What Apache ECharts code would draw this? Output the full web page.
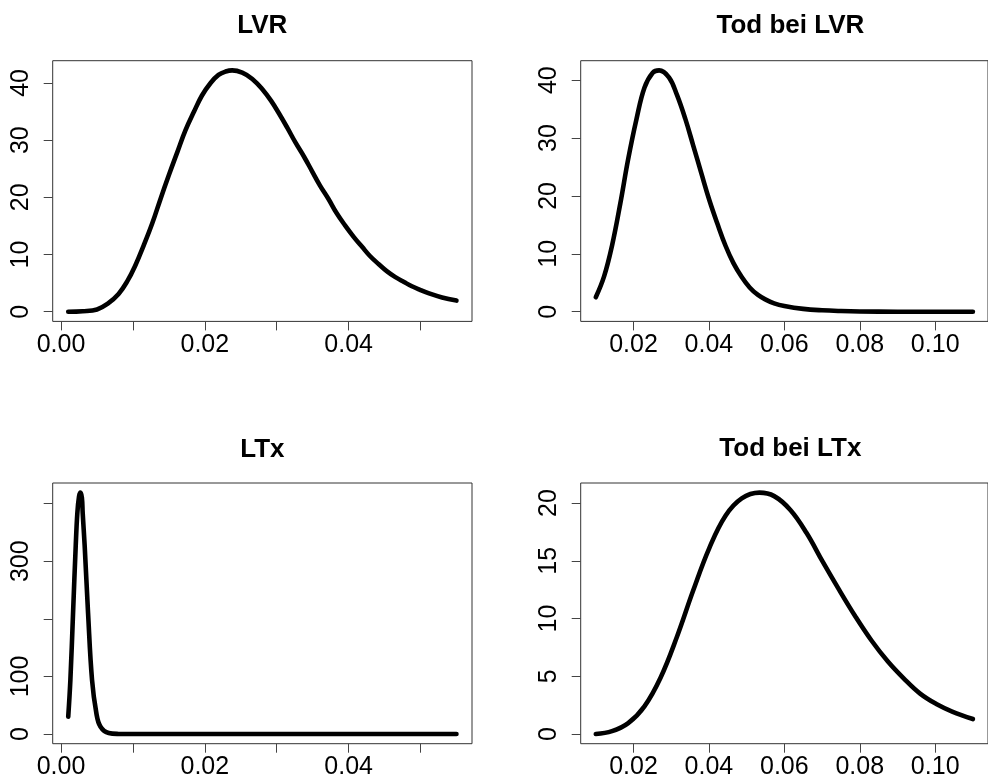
<!DOCTYPE html>
<html>
<head>
<meta charset="utf-8">
<script src="https://cdn.jsdelivr.net/npm/echarts@6/dist/echarts.min.js"></script>
<style>
  html, body { margin: 0; padding: 0; background: #fff; }
  #chart { width: 988px; height: 780px; }
</style>
</head>
<body>
<div id="chart"></div>
<script>
// ---- Density curves (x = rate, y = density) ----
const lvrX = [0.001, 0.003, 0.005, 0.0065, 0.008, 0.0092, 0.0103, 0.0115, 0.0127, 0.0138, 0.0150, 0.0162, 0.0173, 0.0185, 0.0196, 0.0208, 0.0219, 0.0229, 0.0238, 0.0252, 0.0266, 0.0280, 0.0292, 0.0303, 0.0315, 0.0326, 0.0338, 0.0349, 0.0360, 0.0372, 0.0383, 0.0395, 0.0407, 0.0419, 0.0430, 0.0442, 0.0453, 0.0465, 0.0477, 0.0488, 0.0500, 0.0511, 0.0530, 0.0550];
const lvrY = [0.0, 0.1, 0.4, 1.4, 3.1, 5.3, 8.0, 11.6, 15.5, 19.6, 23.9, 28.0, 31.7, 35.0, 37.8, 40.0, 41.4, 42.0, 42.2, 41.8, 40.7, 38.9, 36.9, 34.7, 32.1, 29.6, 27.1, 24.6, 22.1, 19.7, 17.3, 15.1, 13.1, 11.3, 9.7, 8.3, 7.1, 6.05, 5.2, 4.45, 3.8, 3.25, 2.5, 1.95];

const todLvrX = [0.010, 0.0122, 0.0143, 0.0165, 0.0186, 0.0208, 0.0229, 0.0251, 0.0268, 0.0294, 0.0315, 0.0337, 0.0358, 0.0380, 0.0401, 0.0423, 0.0444, 0.0465, 0.0487, 0.0508, 0.0530, 0.0552, 0.0573, 0.060, 0.065, 0.070, 0.075, 0.080, 0.090, 0.100, 0.110];
const todLvrY = [2.5, 6.1, 11.4, 18.7, 26.4, 33.3, 38.7, 41.3, 41.7, 40.5, 37.5, 33.4, 28.8, 23.9, 19.3, 15.1, 11.4, 8.4, 6.0, 4.2, 2.9, 2.05, 1.45, 1.0, 0.5, 0.25, 0.12, 0.05, 0.01, 0.0, 0.0];

const ltxX = [0.001, 0.0013, 0.00167, 0.00204, 0.00227, 0.0025, 0.0027, 0.0029, 0.00301, 0.00329, 0.00376, 0.00431, 0.00491, 0.00547, 0.00663, 0.008, 0.010, 0.020, 0.030, 0.040, 0.050, 0.055];
const ltxY = [30, 94, 210, 326, 384, 412, 419, 410, 384, 326, 210, 94, 36.5, 13.2, 1.7, 0.2, 0, 0, 0, 0, 0, 0];

const todLtxX = [0.010, 0.0143, 0.0186, 0.0229, 0.0272, 0.0315, 0.0358, 0.0401, 0.0444, 0.0487, 0.0534, 0.0573, 0.0616, 0.0659, 0.0702, 0.0745, 0.0788, 0.0831, 0.0874, 0.0917, 0.0960, 0.1003, 0.1045, 0.110];
const todLtxY = [0.0, 0.25, 0.95, 2.4, 4.9, 8.4, 12.4, 16.1, 18.9, 20.4, 20.9, 20.6, 19.4, 17.4, 14.9, 12.5, 10.2, 8.1, 6.3, 4.8, 3.5, 2.6, 1.95, 1.3];

// ---- Titles and axis ticks ----
const titles = ['LVR', 'Tod bei LVR', 'LTx', 'Tod bei LTx'];

const xTicksShort = [0, 0.01, 0.02, 0.03, 0.04, 0.05];
const xLabelsShort = [0, 0.02, 0.04];
const xTicksLong = [0.02, 0.04, 0.06, 0.08, 0.10];
const xLabelsLong = [0.02, 0.04, 0.06, 0.08, 0.10];

const yTicksLvr = [0, 10, 20, 30, 40];
const yLabelsLvr = [0, 10, 20, 30, 40];
const yTicksLtx = [0, 100, 200, 300, 400];
const yLabelsLtx = [0, 100, 300];
const yTicksTodLtx = [0, 5, 10, 15, 20];
const yLabelsTodLtx = [0, 5, 10, 15, 20];

const FONT = "'Liberation Sans', Arial, Helvetica, sans-serif";

// plot boxes: [left, top]; all share the same size
const BOX_W = 419.3, BOX_H = 260.7;
const boxes = [[52.7, 60.7], [580.7, 60.7], [52.7, 483], [580.7, 483]];
const titleY = [26, 26, 449.5, 449];

const panels = [
  { xs: lvrX, ys: lvrY, xt: xTicksShort, xl: xLabelsShort, yt: yTicksLvr, yl: yLabelsLvr },
  { xs: todLvrX, ys: todLvrY, xt: xTicksLong, xl: xLabelsLong, yt: yTicksLvr, yl: yLabelsLvr },
  { xs: ltxX, ys: ltxY, xt: xTicksShort, xl: xLabelsShort, yt: yTicksLtx, yl: yLabelsLtx },
  { xs: todLtxX, ys: todLtxY, xt: xTicksLong, xl: xLabelsLong, yt: yTicksTodLtx, yl: yLabelsTodLtx }
];

// axis range padded by 4% on each side
function padded(vals) {
  const lo = Math.min.apply(null, vals), hi = Math.max.apply(null, vals);
  const d = (hi - lo) * 0.04;
  return [lo - d, hi + d];
}

const grid = [], xAxis = [], yAxis = [], series = [], graphic = [];

panels.forEach(function (p, i) {
  const [left, top] = boxes[i];
  grid.push({
    left: left, top: top, width: BOX_W, height: BOX_H,
    show: true, borderColor: '#333', borderWidth: 1, backgroundColor: 'transparent'
  });
  const xr = padded(p.xs), yr = padded(p.ys);
  xAxis.push({
    type: 'value', gridIndex: i, min: xr[0], max: xr[1],
    axisLine: { show: false, onZero: false },
    splitLine: { show: false },
    axisTick: { show: true, length: 9, customValues: p.xt, lineStyle: { color: '#444', width: 1 } },
    axisLabel: {
      customValues: p.xl, margin: 11, color: '#000', fontSize: 25, fontFamily: FONT,
      formatter: function (v) { return v.toFixed(2); }
    }
  });
  yAxis.push({
    type: 'value', gridIndex: i, min: yr[0], max: yr[1],
    axisLine: { show: false, onZero: false },
    splitLine: { show: false },
    axisTick: { show: true, length: 9, customValues: p.yt, lineStyle: { color: '#444', width: 1 } },
    axisLabel: {
      customValues: p.yl, rotate: 90, margin: 19, color: '#000', fontSize: 25, fontFamily: FONT,
      formatter: function (v) { return String(Math.round(v)); }
    }
  });
  series.push({
    type: 'line', xAxisIndex: i, yAxisIndex: i,
    data: p.xs.map(function (x, k) { return [x, p.ys[k]]; }),
    showSymbol: false, smooth: 0.4, clip: false,
    lineStyle: { color: '#000', width: 4.6, cap: 'round', join: 'round' }
  });
  graphic.push({
    type: 'text', x: left + BOX_W / 2, y: titleY[i],
    style: {
      text: titles[i], align: 'center', verticalAlign: 'middle',
      font: 'bold 26px ' + FONT, fill: '#000'
    }
  });
});

const chart = echarts.init(document.getElementById('chart'), null, { renderer: 'canvas' });
chart.setOption({
  animation: false,
  backgroundColor: '#fff',
  grid: grid,
  xAxis: xAxis,
  yAxis: yAxis,
  series: series,
  graphic: graphic
});
</script>
</body>
</html>
